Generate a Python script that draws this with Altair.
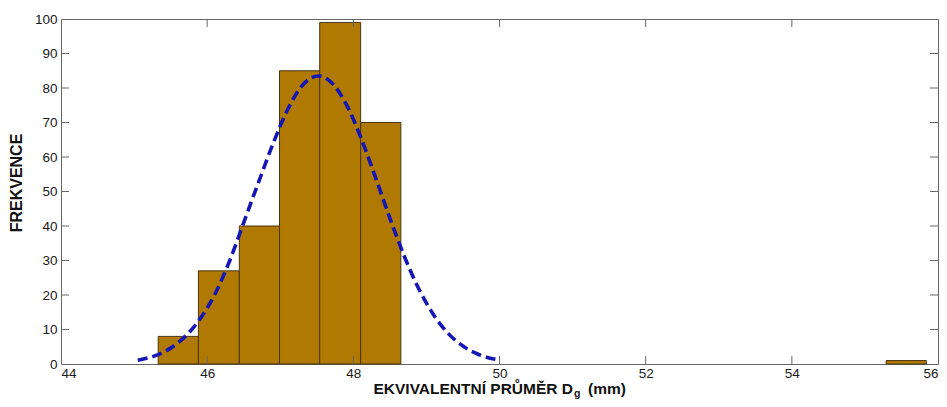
import altair as alt
import pandas as pd

# Histogram bins (non-empty ones) and their frequencies
bin_lo = [45.33, 45.88, 46.44, 46.99, 47.54, 48.10, 55.29]
bin_hi = [45.88, 46.44, 46.99, 47.54, 48.10, 48.65, 55.84]
counts = [8, 27, 40, 85, 99, 70, 1]

# Fitted normal curve, sampled along its path
fit_x = [45.05, 45.3, 45.5, 45.7, 45.9, 46.1, 46.3, 46.5, 46.7, 46.9, 47.1, 47.3,
         47.52, 47.7, 47.9, 48.1, 48.3, 48.5, 48.7, 48.9, 49.1, 49.3, 49.5, 49.7, 50.0]
fit_y = [1.1, 2.5, 4.6, 8.0, 13.0, 20.0, 29.5, 41.0, 52.5, 63.8, 73.7, 80.7,
         83.5, 81.6, 75.4, 65.8, 54.3, 42.3, 31.1, 21.6, 14.2, 8.8, 5.2, 2.9, 1.1]

x_ticks = [44, 46, 48, 50, 52, 54, 56]
y_ticks = [0, 10, 20, 30, 40, 50, 60, 70, 80, 90, 100]

W, H = 877, 345
FRAME = "#666666"
FONT = "Liberation Sans"
TICK_LEN = 8

bars_df = pd.DataFrame({"lo": bin_lo, "hi": bin_hi, "count": counts})
fit_df = pd.DataFrame({"fx": fit_x, "fy": fit_y})
xt_df = pd.DataFrame({"t": x_ticks[1:-1]})
yt_df = pd.DataFrame({"t": y_ticks[1:-1]})
one = pd.DataFrame({"k": [0]})

x_scale = alt.Scale(domain=[44, 56], nice=False, zero=False)
y_scale = alt.Scale(domain=[0, 100], nice=False)

x_axis = alt.Axis(values=x_ticks, format="d", tickSize=0, labelPadding=2, title=None,
                  labelFont=FONT, labelFontSize=13.5, labelColor="#1a1a1a",
                  labelOverlap=False)
y_axis = alt.Axis(values=y_ticks, format="d", tickSize=0, labelPadding=4, title=None,
                  labelFont=FONT, labelFontSize=13.5, labelColor="#1a1a1a",
                  labelOverlap=False)

bars = alt.Chart(bars_df).mark_bar(
    fill="#B07A02", stroke="#4A3510", strokeWidth=1
).encode(
    x=alt.X("lo:Q", scale=x_scale, axis=x_axis),
    x2="hi:Q",
    y=alt.Y("count:Q", scale=y_scale, axis=y_axis),
    y2=alt.datum(0),
)

fit = alt.Chart(fit_df).mark_line(
    color="#1616B4", strokeWidth=3.6, strokeDash=[10, 5], interpolate="monotone"
).encode(
    x=alt.X("fx:Q", scale=x_scale, axis=x_axis),
    y=alt.Y("fy:Q", scale=y_scale, axis=y_axis),
)

# Inward-pointing ticks on all four sides of the frame
tick_bottom = alt.Chart(xt_df).mark_rule(color=FRAME).encode(
    x=alt.X("t:Q", scale=x_scale, axis=x_axis), y=alt.value(H), y2=alt.value(H - TICK_LEN))
tick_top = alt.Chart(xt_df).mark_rule(color=FRAME).encode(
    x=alt.X("t:Q", scale=x_scale, axis=x_axis), y=alt.value(0), y2=alt.value(TICK_LEN))
tick_left = alt.Chart(yt_df).mark_rule(color=FRAME).encode(
    y=alt.Y("t:Q", scale=y_scale, axis=y_axis), x=alt.value(0), x2=alt.value(TICK_LEN))
tick_right = alt.Chart(yt_df).mark_rule(color=FRAME).encode(
    y=alt.Y("t:Q", scale=y_scale, axis=y_axis), x=alt.value(W), x2=alt.value(W - TICK_LEN))

# Axis titles (x title carries a subscript)
y_title = alt.Chart(one).mark_text(
    text="FREKVENCE", angle=270, font=FONT, fontWeight="bold", fontSize=16,
    color="#111111", align="center", baseline="middle"
).encode(x=alt.value(-44), y=alt.value(164))

x_title_main = alt.Chart(one).mark_text(
    text="EKVIVALENTNÍ PRŮMĚR D", font=FONT, fontWeight="bold", fontSize=15.5,
    color="#111111", align="right", baseline="alphabetic"
).encode(x=alt.value(512), y=alt.value(375))
x_title_sub = alt.Chart(one).mark_text(
    text="g", font=FONT, fontWeight="bold", fontSize=10.5,
    color="#111111", align="left", baseline="alphabetic"
).encode(x=alt.value(513), y=alt.value(378))
x_title_unit = alt.Chart(one).mark_text(
    text="(mm)", font=FONT, fontWeight="bold", fontSize=15.5,
    color="#111111", align="left", baseline="alphabetic"
).encode(x=alt.value(527), y=alt.value(375))

chart = alt.layer(
    bars, fit, tick_bottom, tick_top, tick_left, tick_right,
    y_title, x_title_main, x_title_sub, x_title_unit
).properties(
    width=W, height=H,
    autosize=alt.AutoSizeParams(type="none"),
    padding={"left": 61, "top": 19, "right": 9, "bottom": 43},
    background="white",
).configure_view(
    stroke=FRAME, strokeWidth=1
).configure_axis(
    domain=False, grid=False
)

chart.save("out.html", embed_options={"renderer": "svg", "actions": False})
